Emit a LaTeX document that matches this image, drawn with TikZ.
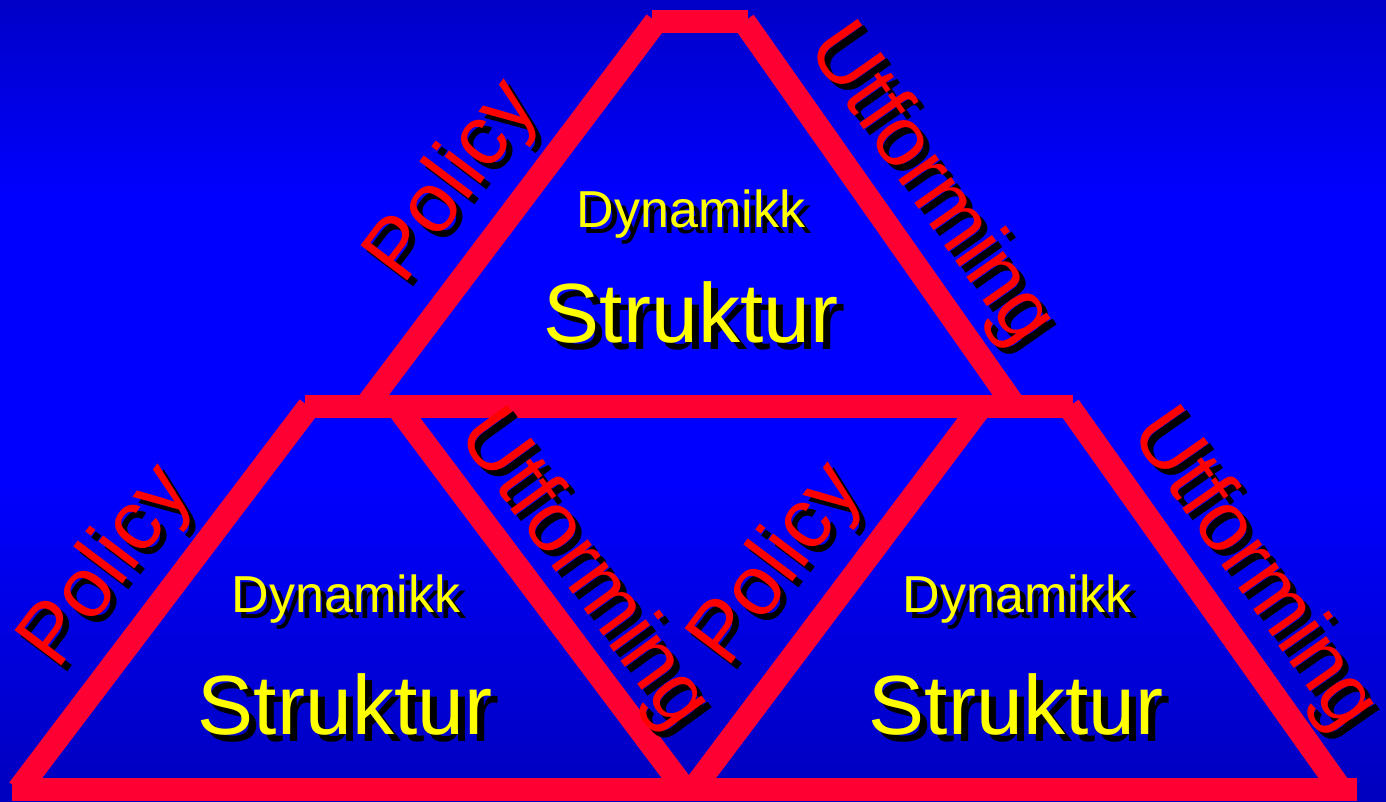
\documentclass[tikz,border=0pt]{standalone}
\usepackage{fontspec}
\setmainfont{Liberation Sans}
\definecolor{linered}{RGB}{255,0,51}
\definecolor{txtred}{RGB}{255,0,0}
\definecolor{txtyel}{RGB}{255,255,0}
\definecolor{bgtop}{RGB}{0,0,200}
\definecolor{bgmid}{RGB}{0,0,255}
\definecolor{bgbot}{RGB}{0,0,190}
\tikzset{
  redline/.style={draw=linered, line width=23.5pt, line cap=butt},
  txt/.style={inner sep=0pt, outer sep=0pt},
  small/.style={font=\fontsize{52pt}{52pt}\selectfont},
  big/.style={font=\fontsize{84pt}{84pt}\selectfont},
  slant/.style={font=\fontsize{85pt}{85pt}\selectfont},
}
% #1 name, #2 options, #3 x, #4 y, #5 shadow offset, #6 colour, #7 text
\newcommand\shtext[7]{%
  \node[txt,#2,text=black] (#1-shadow) at (#3+#5,#4+#5) {#7};
  \node[txt,#2,text=#6] (#1) at (#3,#4) {#7};
}
\begin{document}
\begin{tikzpicture}[x=1pt,y=-1pt]
\useasboundingbox (0,0) rectangle (1386,801);
% background
\shade[top color=bgtop, bottom color=bgmid] (0,0) rectangle (1386,200);
\fill[bgmid] (0,199) rectangle (1386,481);
\shade[top color=bgmid, bottom color=bgbot] (0,480) rectangle (1386,801);

% key points
\coordinate (T1) at (652,21.5);  \coordinate (T2) at (748,21.5);
\coordinate (Ta) at (656,21.5);  \coordinate (Tb) at (744,21.5);
\coordinate (Tc) at (365.5,406.5); \coordinate (Td) at (1015,406.5);
\coordinate (M1) at (305,406.5); \coordinate (M2) at (1073,406.5);
\coordinate (La) at (309,406.5); \coordinate (Lb) at (397,406.5);
\coordinate (Lc) at (18.7,789.5); \coordinate (Ld) at (685,789.5);
\coordinate (Ra) at (981,406.5); \coordinate (Rb) at (1069,406.5);
\coordinate (Rc) at (692.7,789.5); \coordinate (Rd) at (1341,789.5);
\coordinate (B1) at (12,789.5);  \coordinate (B2) at (1357,789.5);

% lines
\draw[redline] (T1) -- (T2);
\draw[redline] (Ta) -- (Tc);
\draw[redline] (Tb) -- (Td);
\draw[redline] (La) -- (Lc);
\draw[redline] (Lb) -- (Ld);
\draw[redline] (Ra) -- (Rc);
\draw[redline] (Rb) -- (Rd);
\draw[redline] (M1) -- (M2);
\draw[redline] (B1) -- (B2);

% texts: top
\shtext{tpol}{slant,rotate=53}{454}{183}{6}{txtred}{Policy}
\shtext{tutf}{slant,rotate=-55}{930}{186}{6}{txtred}{Utforming}
\shtext{tdyn}{small,anchor=base}{691}{227}{6}{txtyel}{Dynamikk}
\shtext{tstr}{big,anchor=base}{691}{342}{7}{txtyel}{Struktur}
% bottom left
\shtext{lpol}{slant,rotate=53}{108}{568}{6}{txtred}{Policy}
\shtext{lutf}{slant,rotate=-54}{583}{571}{6}{txtred}{Utforming}
\shtext{ldyn}{small,anchor=base}{346}{612}{6}{txtyel}{Dynamikk}
\shtext{lstr}{big,anchor=base}{345}{734}{7}{txtyel}{Struktur}
% bottom right
\shtext{rpol}{slant,rotate=53}{778}{566}{6}{txtred}{Policy}
\shtext{rutf}{slant,rotate=-55}{1253}{571}{6}{txtred}{Utforming}
\shtext{rdyn}{small,anchor=base}{1017}{612}{6}{txtyel}{Dynamikk}
\shtext{rstr}{big,anchor=base}{1016}{734}{7}{txtyel}{Struktur}
\end{tikzpicture}
\end{document}
